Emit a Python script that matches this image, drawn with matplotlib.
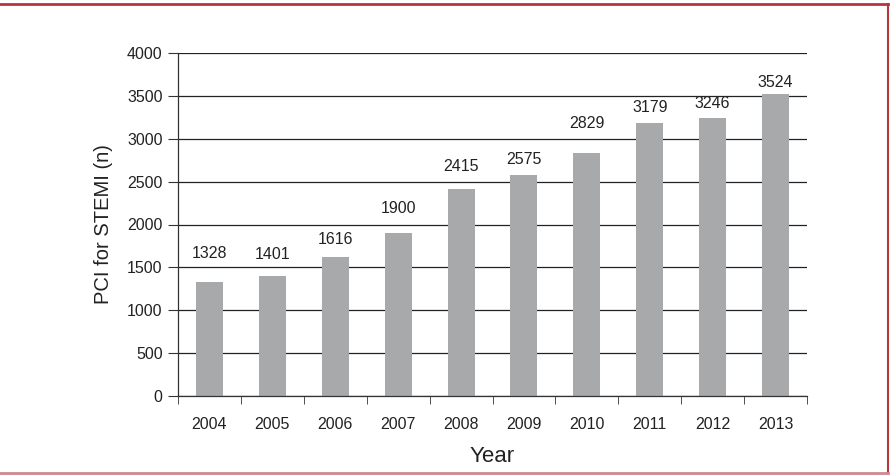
import matplotlib
matplotlib.use('Agg')
import matplotlib.pyplot as plt
from matplotlib.lines import Line2D

plt.rcParams['font.family'] = ['Liberation Sans', 'DejaVu Sans']

years = ['2004', '2005', '2006', '2007', '2008', '2009', '2010', '2011', '2012', '2013']
pci_counts = [1328, 1401, 1616, 1900, 2415, 2575, 2829, 3179, 3246, 3524]
y_ticks = [0, 500, 1000, 1500, 2000, 2500, 3000, 3500, 4000]

# gap (px) between each bar top and its value label, as placed in the original
label_gaps = [21, 14, 10, 17, 15, 8, 22, 8, 7, 4]

W, H = 891, 475
fig = plt.figure(figsize=(W / 100, H / 100), dpi=100)
ax = fig.add_axes([178 / W, 1 - 396 / H, (807 - 178) / W, (396 - 53) / H])

x = list(range(len(years)))
ax.bar(x, pci_counts, width=0.43, color='#a8a9ab', zorder=2)
for xi, v, g in zip(x, pci_counts, label_gaps):
    ax.annotate(str(v), (xi, v), xytext=(0, g * 0.72), textcoords='offset points',
                ha='center', va='bottom', fontsize=11.5, color='#222222')

ax.set_xlim(-0.5, len(years) - 0.5)
ax.set_ylim(0, 4000)
ax.set_yticks(y_ticks)
ax.set_yticklabels([str(t) for t in y_ticks], fontsize=11.5, color='#222222')
ax.yaxis.grid(True, color='#222222', linewidth=0.9, zorder=1)
ax.set_axisbelow(True)

# category labels centred, ticks at category boundaries
ax.set_xticks(x)
ax.set_xticklabels(years, fontsize=11.5, color='#222222')
ax.tick_params(axis='x', which='major', length=0, pad=15)
ax.set_xticks([i - 0.5 for i in range(len(years) + 1)], minor=True)
ax.tick_params(axis='x', which='minor', length=6, direction='out', color='#333333')
ax.tick_params(axis='y', length=7, direction='out', color='#333333', pad=4)

for s in ['top', 'right']:
    ax.spines[s].set_visible(False)
for s in ['left', 'bottom']:
    ax.spines[s].set_color('#333333')
    ax.spines[s].set_linewidth(0.9)

ax.set_xlabel('Year', fontsize=16, color='#222222', labelpad=10)
ax.set_ylabel('PCI for STEMI (n)', fontsize=14.5, color='#222222', labelpad=10)

# frame around the figure (top, right, bottom)
fig.add_artist(Line2D([0, 888 / W], [1 - 4 / H, 1 - 4 / H], transform=fig.transFigure,
                      color='#b5363c', linewidth=2))
fig.add_artist(Line2D([888 / W, 888 / W], [1 - 4 / H, 1 - 473 / H], transform=fig.transFigure,
                      color='#b5363c', linewidth=1.5))
fig.add_artist(Line2D([0, 888 / W], [1 - 473 / H, 1 - 473 / H], transform=fig.transFigure,
                      color='#cf8a8e', linewidth=2))

fig.savefig('out.png', dpi=100)
